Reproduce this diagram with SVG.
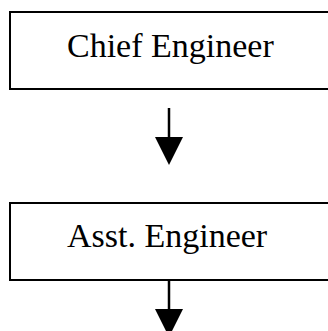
<svg xmlns="http://www.w3.org/2000/svg" width="328" height="331" viewBox="0 0 328 331">
<style>
.box{fill:#fff;stroke:#000;stroke-width:2}
.lbl{font-family:"Liberation Serif","Times New Roman",serif;font-size:34px;fill:#000}
.conn{stroke:#000;stroke-width:2.5;fill:none}
.head{fill:#000}
</style>
<rect width="328" height="331" fill="#fff"/>
<g id="node-chief">
<rect class="box" x="10" y="12" width="330" height="77"/>
<text class="lbl" x="67" y="57">Chief Engineer</text>
</g>
<g id="node-asst">
<rect class="box" x="10" y="203" width="330" height="77"/>
<text class="lbl" x="67" y="247">Asst. Engineer</text>
</g>
<g id="connectors">
<line class="conn" x1="169" y1="108" x2="169" y2="138"/>
<polygon class="head" points="155,137 183,137 169,165"/>
<line class="conn" x1="169" y1="280" x2="169" y2="310"/>
<polygon class="head" points="155,309 183,309 169,337"/>
</g>
</svg>
